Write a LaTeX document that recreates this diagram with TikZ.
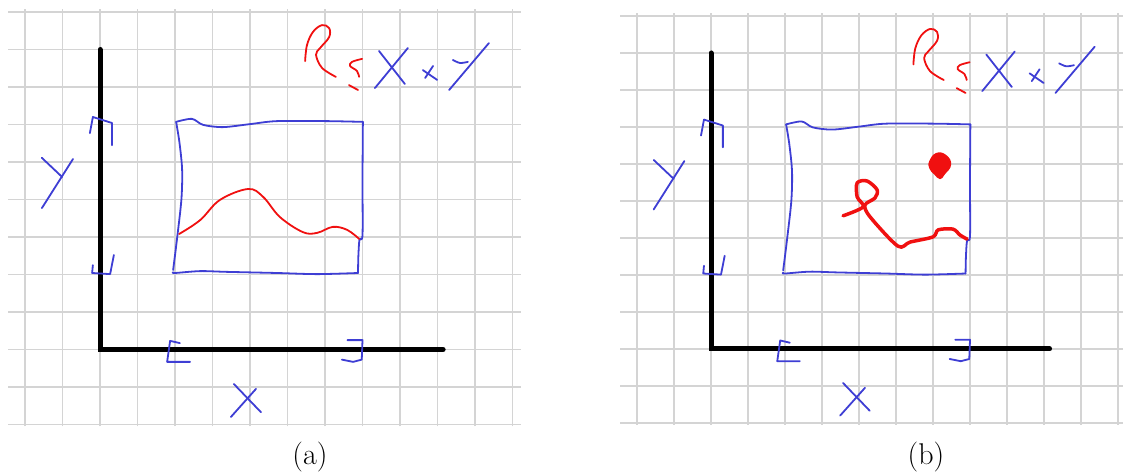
\documentclass[tikz,border=0pt]{standalone}
\usepackage{tikz}

\definecolor{inkblue}{RGB}{62,62,212}
\definecolor{inkred}{RGB}{240,16,16}
\definecolor{gridgray}{RGB}{212,212,212}

\tikzset{
  gridline/.style={gridgray, line width=1.8pt},
  axisline/.style={black, line width=5pt, line cap=round, line join=miter},
  bluepen/.style={inkblue, line width=1.8pt, line cap=round, line join=round},
  redpen/.style={inkred, line width=1.8pt, line cap=round, line join=round},
  caption/.style={font=\fontsize{30}{34}\selectfont}
}

% grid, axes, box and labels shared by both panels (grid units)
\newcommand{\sketchpanel}{%
  \foreach \i in {-2,...,11}
    \draw[gridline] (\i,-2.05) -- (\i,9.08);
  \foreach \j in {-2,...,9}
    \draw[gridline] (-2.45,\j) -- (11.23,\j);
  % axes
  \draw[axisline] (0,8) -- (0,0) -- (9.15,0);
  % box
  \draw[bluepen] plot[smooth, tension=0.5] coordinates {(2.03,6.07) (2.45,6.15) (2.75,5.99)
    (3.28,5.93) (4.0,6.01) (4.72,6.09) (6.05,6.09) (7.01,6.07)};
  \draw[bluepen] plot[smooth, tension=0.5] coordinates {(7.01,6.07) (7.0,4.5) (7.0,3.05)
    (6.92,2.93) (6.89,2.5) (6.88,2.04)};
  \draw[bluepen] plot[smooth, tension=0.5] coordinates {(6.88,2.04) (5.79,2.01) (4.72,2.04)
    (3.39,2.07) (2.67,2.09) (2.0,2.04) (1.95,2.06)};
  \draw[bluepen] plot[smooth, tension=0.5] coordinates {(1.95,2.12) (2.05,2.92) (2.17,3.99)
    (2.19,4.79) (2.12,5.51) (2.03,6.07)};
  % brackets on y
  \draw[bluepen] (-0.27,5.77) -- (-0.19,6.2) -- (0.32,6.04) -- (0.32,5.45);
  \draw[bluepen] (0.37,2.52) -- (0.27,2.01) -- (-0.21,2.04) -- (-0.19,2.25);
  % brackets on x
  \draw[bluepen] (2.13,0.17) -- (1.87,0.23) -- (1.79,-0.33) -- (2.4,-0.33);
  \draw[bluepen] (6.6,0.25) -- (7.0,0.25) -- (6.98,-0.27) -- (6.75,-0.33) -- (6.45,-0.27);
  % Y
  \draw[bluepen] (-1.55,5.11) -- (-1.01,4.6);
  \draw[bluepen] (-0.72,5.08) -- (-1.55,3.77);
  % X
  \draw[bluepen] (3.57,-0.92) -- (4.29,-1.67);
  \draw[bluepen] (3.49,-1.8) -- (4.16,-1.05);
  % R subset X x Y
  \draw[redpen] plot[smooth, tension=0.6] coordinates {(5.47,7.69) (5.52,8.12) (5.68,8.47)
    (5.92,8.65) (6.11,8.57) (6.11,8.33) (5.87,8.04) (5.76,7.86) (5.92,7.51) (6.29,7.27)};
  \draw[redpen] plot[smooth, tension=0.6] coordinates {(6.99,7.75) (6.72,7.67) (6.67,7.56)
    (6.85,7.43) (6.91,7.27)};
  \draw[redpen] (6.64,7.05) -- (6.88,6.92);
  \draw[bluepen] (7.44,7.96) -- (8.13,7.08);
  \draw[bluepen] (7.33,6.97) -- (8.21,8.04);
  \draw[bluepen] (8.61,7.45) -- (8.99,7.19);
  \draw[bluepen] (8.67,7.24) -- (8.88,7.56);
  \draw[bluepen] (10.37,8.17) -- (9.31,6.92);
  \draw[bluepen] plot[smooth] coordinates {(9.41,7.72) (9.6,7.64) (9.81,7.67)};
}

\begin{document}
\begin{tikzpicture}[x=1pt, y=1pt]
\useasboundingbox (0,0) rectangle (1123,473);

% (a)
\begin{scope}[shift={(100,123.5)}, scale=37.5]
  \sketchpanel
  \draw[redpen] plot[smooth, tension=0.6] coordinates {(2.11,3.08) (2.67,3.45) (3.2,3.99)
    (3.95,4.28) (4.35,4.07) (4.8,3.53) (5.41,3.13) (5.79,3.11) (6.21,3.27) (6.59,3.19) (6.91,2.95)};
\end{scope}

% (b)
\begin{scope}[shift={(711,124)}, scale=37]
  \sketchpanel
  \fill[inkred] plot[smooth cycle, tension=0.8] coordinates {(5.9,5.08) (6.09,5.3) (6.36,5.24)
    (6.49,4.98) (6.32,4.72) (6.19,4.59) (6.03,4.72) (5.9,4.88)};
  \draw[redpen, line width=3.5pt] plot[smooth, tension=0.5] coordinates {(3.57,3.6) (4.11,3.84)
    (3.95,4.11) (3.95,4.49) (4.22,4.54) (4.49,4.3) (4.43,4.08) (4.16,3.89) (4.3,3.57)
    (5.05,2.78) (5.38,2.89) (6.0,3.03) (6.14,3.22) (6.54,3.24) (6.73,3.08) (6.92,2.97)};
\end{scope}

\node[caption] (capa) at (310,16) {(a)};
\node[caption] (capb) at (926,16) {(b)};
\end{tikzpicture}
\end{document}
